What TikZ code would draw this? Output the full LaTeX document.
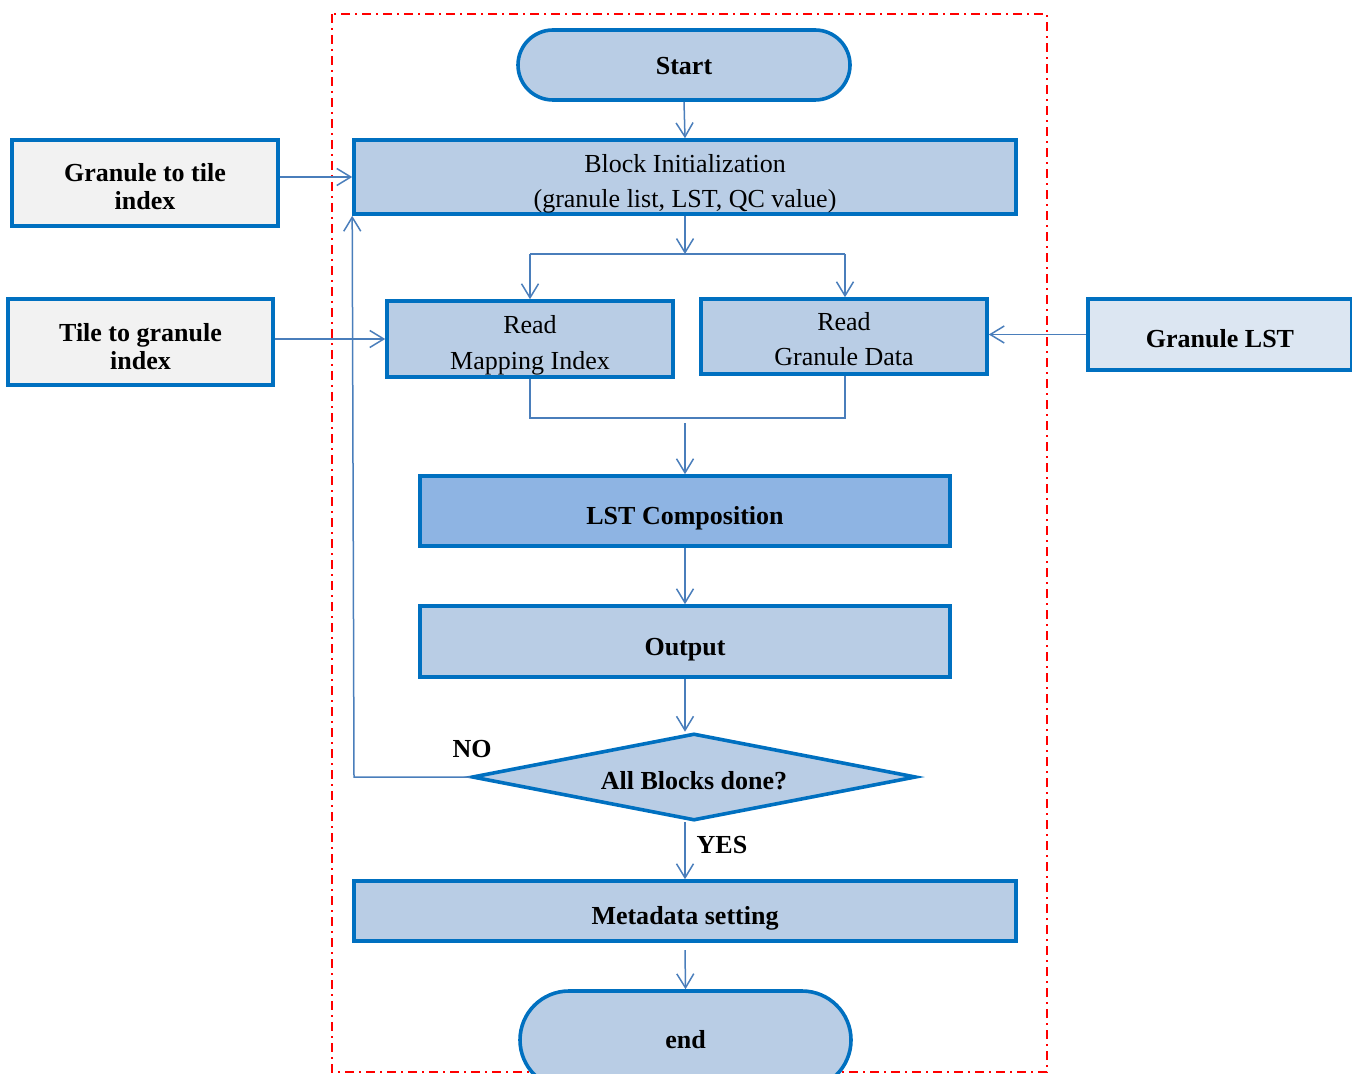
\documentclass[tikz,border=0pt]{standalone}
\usepackage{fontspec}
\setmainfont{Liberation Serif}
\usetikzlibrary{shapes.misc,shapes.geometric,arrows.meta}
\definecolor{boxfill}{HTML}{B9CDE5}
\definecolor{boxdraw}{HTML}{0070C0}
\definecolor{darkfill}{HTML}{8EB4E3}
\definecolor{greyfill}{HTML}{F2F2F2}
\definecolor{palefill}{HTML}{DCE6F2}
\definecolor{connc}{HTML}{4A7EBB}
\newcommand{\lowtxt}[2]{\raisebox{-#1}[\height][\depth]{#2}}
\newcommand{\twolines}[2]{\begin{tabular}{@{}c@{}}#1\\#2\end{tabular}}
\begin{document}
\begin{tikzpicture}[x=0.5pt,y=-0.5pt,
  box/.style={draw=boxdraw,line width=1.8pt,fill=boxfill,inner sep=0pt,
    font=\fontsize{13}{17.5}\selectfont},
  bbox/.style={box,font=\fontsize{13}{14}\selectfont\bfseries},
  term/.style={bbox,rounded rectangle},
  conn/.style={draw=connc,line width=0.75pt,-{Straight Barb[length=7pt,width=8.5pt]}},
  plain/.style={draw=connc,line width=0.75pt},
  lbl/.style={font=\fontsize{13}{14}\selectfont\bfseries,inner sep=0pt}]
\useasboundingbox (0,0) rectangle (1352,1074);
\clip (0,0) rectangle (1352,1074);
% frame
\draw[red,line width=1pt,dash pattern=on 4.5pt off 2.5pt on 1pt off 2.5pt] (332,14) rectangle (1047,1072);
% nodes
\node[term,minimum width=166pt,minimum height=35pt] (start) at (684,65) {\lowtxt{0.5pt}{Start}};
\node[box,minimum width=331pt,minimum height=37pt] (init) at (685,177)
  {\lowtxt{3pt}{\twolines{Block Initialization}{(granule list, LST, QC value)}}};
\node[box,minimum width=143pt,minimum height=38pt,font=\fontsize{13}{18}\selectfont] (rmap) at (530,339)
  {\lowtxt{2.5pt}{\twolines{Read}{Mapping Index}}};
\node[box,minimum width=143pt,minimum height=37.5pt] (rgran) at (844,336.5)
  {\lowtxt{2.5pt}{\twolines{Read}{Granule Data}}};
\node[bbox,fill=darkfill,minimum width=265pt,minimum height=35pt] (lst) at (685,511) {\lowtxt{3.5pt}{LST Composition}};
\node[bbox,minimum width=265pt,minimum height=35.5pt] (out) at (685,641.5) {\lowtxt{4pt}{Output}};
\node[bbox,diamond,aspect=5.1,minimum width=222pt,minimum height=43.5pt] (dec) at (694,777) {\lowtxt{2pt}{All Blocks done?}};
\node[bbox,minimum width=331pt,minimum height=30pt] (meta) at (685,911) {\lowtxt{3.5pt}{Metadata setting}};
\node[term,minimum width=165.5pt,minimum height=49pt] (end) at (685.5,1040) {end};
\node[bbox,fill=greyfill,minimum width=133pt,minimum height=43pt] (g2t) at (145,183)
  {\lowtxt{3.5pt}{\twolines{Granule to tile}{index}}};
\node[bbox,fill=greyfill,minimum width=132.5pt,minimum height=43pt] (t2g) at (140.5,342)
  {\lowtxt{4pt}{\twolines{Tile to granule}{index}}};
\node[bbox,fill=palefill,minimum width=132pt,minimum height=35.5pt] (glst) at (1220,334.5) {\lowtxt{2pt}{Granule LST}};
% coordinates
\coordinate (bm) at (685,254);
\coordinate (bl) at (530,254);
\coordinate (br) at (845,254);
\coordinate (ml) at (530,418);
\coordinate (mr) at (845,418);
\coordinate (mm) at (685,423);
\coordinate (loop) at (354,777);
\coordinate (m2) at (685,950);
% connectors
\draw[conn] (start.south) -- (init.north);
\draw[conn] (init.south) -- (bm);
\draw[plain] (bl) -- (br);
\draw[conn] (bl) -- (rmap.north);
\draw[conn] (br) -- (br |- rgran.north);
\draw[plain] (rmap.south) -- (ml) -- (mr) -- (mr |- rgran.south);
\draw[conn] (mm) -- (lst.north);
\draw[conn] (lst.south) -- (out.north);
\draw[conn] (out.south) -- (out.south |- dec.north);
\draw[conn] (dec.west) -- (loop) -- (init.south west);
\draw[conn] (dec.south -| meta.north) -- (meta.north);
\draw[conn] (m2) -- (end.north);
\draw[conn] (g2t.east |- init.west) -- (init.west);
\draw[conn] (t2g.east |- rmap.west) -- (rmap.west);
\draw[conn] (glst.west) -- (glst.west -| rgran.east);
% labels
\node[lbl] (no) at (472,749) {NO};
\node[lbl] (yes) at (722,845) {YES};
\end{tikzpicture}
\end{document}
